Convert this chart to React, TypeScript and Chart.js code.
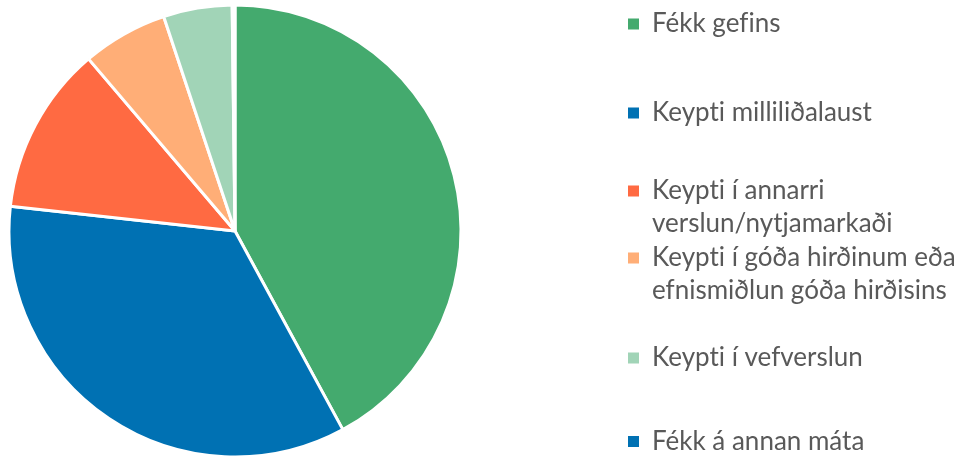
import React, { useEffect, useRef } from "react";
import { Chart, registerables } from "chart.js";

Chart.register(...registerables);

// ---- data ----
const categories: string[] = [
  "Fékk gefins",
  "Keypti milliliðalaust",
  "Keypti í annarri verslun/nytjamarkaði",
  "Keypti í góða hirðinum eða efnismiðlun góða hirðisins",
  "Keypti í vefverslun",
  "Fékk á annan máta",
];
const shares: number[] = [42.0, 34.6, 12.0, 6.1, 4.9, 0.2];
const sliceColors: string[] = ["#44AA6E", "#0071B3", "#FF6A42", "#FFAE77", "#A1D4B7", "#0071B3"];
const legendLines: string[][] = [
  ["Fékk gefins"],
  ["Keypti milliliðalaust"],
  ["Keypti í annarri", "verslun/nytjamarkaði"],
  ["Keypti í góða hirðinum eða", "efnismiðlun góða hirðisins"],
  ["Keypti í vefverslun"],
  ["Fékk á annan máta"],
];

// legend layout (Excel-like uneven slots), in units of UNIT px
const UNIT = 5.5;
const LINE_UNITS = 6; // 33px between wrapped lines
const legendSlots: number[] = [16, 14, 12, 18, 15, 1];

const placement = {
  id: "placement",
  beforeDraw(chart: any) {
    try {
      chart.ctx.textRendering = "optimizeSpeed";
    } catch (e) {}
  },
  afterLayout(chart: any) {
    const a = chart.chartArea;
    a.left = 9;
    a.right = 461;
    a.top = 5;
    a.bottom = 457;
    a.width = 452;
    a.height = 452;
    const lg = chart.legend;
    if (lg) {
      const w = lg.width;
      lg.left = 627;
      lg.right = 627 + w;
      lg.top = 10;
      lg.bottom = 457;
      lg.height = 447;
    }
  },
};

export default function App() {
  const ref = useRef<HTMLCanvasElement | null>(null);
  useEffect(() => {
    if (!ref.current) return;
    const chart = new Chart(ref.current, {
      type: "pie",
      data: {
        labels: categories,
        datasets: [
          {
            data: shares,
            backgroundColor: sliceColors,
            borderColor: "#ffffff",
            borderWidth: 3,
            radius: 226,
          } as any,
        ],
      },
      options: {
        animation: false,
        responsive: false,
        layout: { padding: { top: 5, left: 0, right: 0, bottom: 0 } },
        plugins: {
          tooltip: { enabled: false },
          legend: {
            position: "right",
            align: "start",
            labels: {
              boxWidth: 11,
              boxHeight: 11,
              padding: 1,
              color: "#595959",
              font: { family: "Lato", size: 26, lineHeight: UNIT + "px" },
              generateLabels: (c: any) => {
                const ds = c.data.datasets[0];
                return legendLines.map((lines, i) => {
                  const text: string[] = [];
                  for (let k = 0; k < legendSlots[i]; k++) text.push("");
                  lines.forEach((l, j) => {
                    text[j * LINE_UNITS] = l;
                  });
                  return {
                    text,
                    fillStyle: ds.backgroundColor[i],
                    strokeStyle: ds.backgroundColor[i],
                    lineWidth: 0,
                    hidden: false,
                    index: i,
                    fontColor: "#595959",
                  };
                });
              },
            },
          },
        },
      },
      plugins: [placement],
    });
    return () => chart.destroy();
  }, []);
  return (
    <div style={{ position: "absolute", left: 0, top: 0, width: 958, height: 457, background: "#fff" }}>
      <canvas ref={ref} width={958} height={457} />
    </div>
  );
}
